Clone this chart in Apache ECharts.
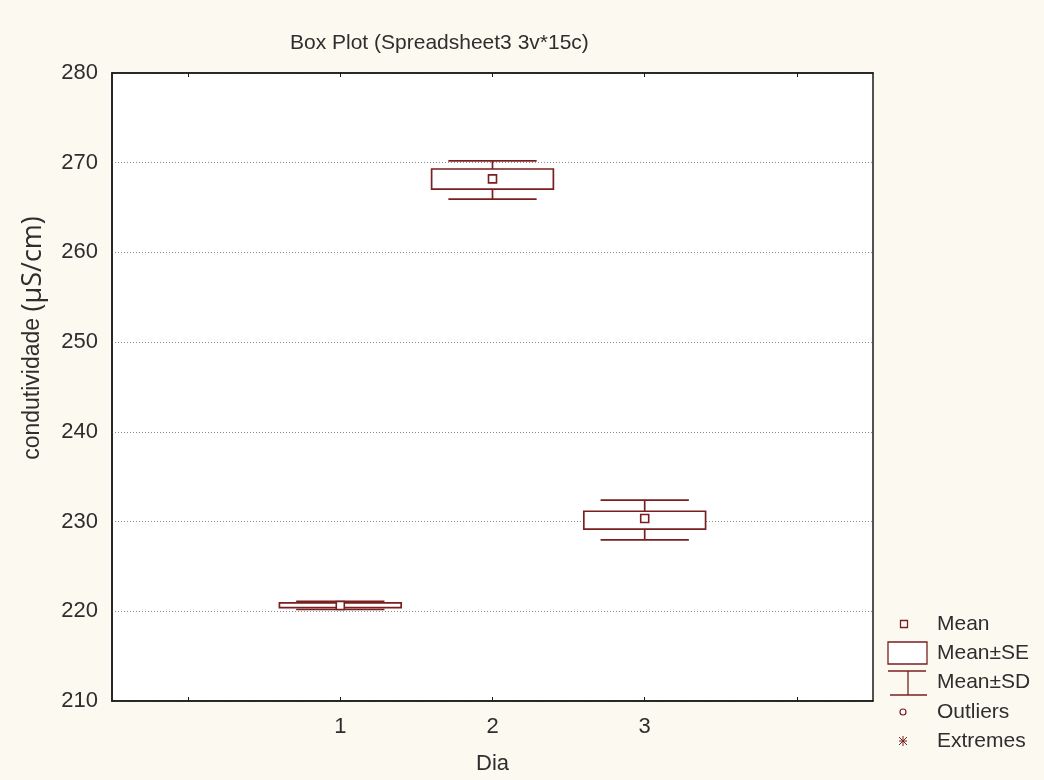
<!DOCTYPE html>
<html>
<head>
<meta charset="utf-8">
<script src="https://cdn.jsdelivr.net/npm/echarts@6/dist/echarts.min.js"></script>
<style>
  html, body { margin: 0; padding: 0; background: #fcf9f0; }
  #chart { width: 1044px; height: 780px; }
</style>
</head>
<body>
<div id="chart"></div>
<script>
// ---- data ----
const categories = ['', '1', '2', '3', ''];
const dayIndex = [1, 2, 3];
const means  = [220.65, 268.2, 230.35];
const seLow  = [220.40, 267.05, 229.15];
const seHigh = [220.93, 269.30, 231.15];
const sdLow  = [220.20, 265.95, 227.95];
const sdHigh = [221.10, 270.20, 232.40];
const yMin = 210, yMax = 280, yStep = 10;
const legendLabels = ['Mean', 'Mean±SE', 'Mean±SD', 'Outliers', 'Extremes'];

const RED = '#7a1f1f';
const TXT = '#2e2e2e';
const FONT = 'Liberation Sans';

const boxData = dayIndex.map((d, i) => [d, sdLow[i], seLow[i], means[i], seHigh[i], sdHigh[i]]);
const meanData = dayIndex.map((d, i) => [d, means[i]]);

function renderBox(params, api) {
  const x = api.value(0);
  const band = api.size([1, 0])[0];
  const bh = band * 0.40;
  const ch = band * 0.29;
  const pSdL = api.coord([x, api.value(1)]);
  const pSeL = api.coord([x, api.value(2)]);
  const pSeH = api.coord([x, api.value(4)]);
  const pSdH = api.coord([x, api.value(5)]);
  const cx = pSdL[0];
  const ls = { stroke: RED, lineWidth: 1.7, fill: null };
  return {
    type: 'group',
    children: [
      { type: 'line', shape: { x1: cx, y1: pSdH[1], x2: cx, y2: pSeH[1] }, style: ls },
      { type: 'line', shape: { x1: cx, y1: pSeL[1], x2: cx, y2: pSdL[1] }, style: ls },
      { type: 'line', shape: { x1: cx - ch, y1: pSdH[1], x2: cx + ch, y2: pSdH[1] }, style: ls },
      { type: 'line', shape: { x1: cx - ch, y1: pSdL[1], x2: cx + ch, y2: pSdL[1] }, style: ls },
      { type: 'rect', shape: { x: cx - bh, y: pSeH[1], width: 2 * bh, height: pSeL[1] - pSeH[1] },
        style: { stroke: RED, lineWidth: 1.7, fill: '#ffffff' } }
    ]
  };
}

const chart = echarts.init(document.getElementById('chart'), null, { renderer: 'canvas' });

// legend drawn as graphic (icons differ in shape and size)
const lx = 904, tx = 937;
const ly = [624, 653, 682, 712, 741];
const legendGraphics = [
  { type: 'rect', shape: { x: lx - 3.5, y: ly[0] - 3.5, width: 7, height: 7 }, style: { stroke: RED, lineWidth: 1.3, fill: '#fff' } },
  { type: 'rect', shape: { x: 888, y: 642, width: 39, height: 22 }, style: { stroke: RED, lineWidth: 1.3, fill: '#fff' } },
  { type: 'line', shape: { x1: 888, y1: 671, x2: 926, y2: 671 }, style: { stroke: RED, lineWidth: 1.3 } },
  { type: 'line', shape: { x1: 908, y1: 671, x2: 908, y2: 695 }, style: { stroke: RED, lineWidth: 1.3 } },
  { type: 'line', shape: { x1: 890, y1: 695, x2: 927, y2: 695 }, style: { stroke: RED, lineWidth: 1.3 } },
  { type: 'circle', shape: { cx: 903, cy: ly[3], r: 3 }, style: { stroke: RED, lineWidth: 1.2, fill: '#fff' } },
  { type: 'line', shape: { x1: 899, y1: ly[4], x2: 907, y2: ly[4] }, style: { stroke: RED, lineWidth: 1 } },
  { type: 'line', shape: { x1: 903, y1: ly[4] - 5, x2: 903, y2: ly[4] + 5 }, style: { stroke: RED, lineWidth: 1 } },
  { type: 'line', shape: { x1: 899, y1: ly[4] - 4, x2: 907, y2: ly[4] + 4 }, style: { stroke: RED, lineWidth: 1 } },
  { type: 'line', shape: { x1: 899, y1: ly[4] + 4, x2: 907, y2: ly[4] - 4 }, style: { stroke: RED, lineWidth: 1 } }
].concat(legendLabels.map((t, i) => ({
  type: 'text', x: tx, y: ly[i],
  style: { text: t, font: '21px "' + FONT + '"', fill: TXT, textAlign: 'left', textVerticalAlign: 'middle' }
})));

const option = {
  backgroundColor: '#fcf9f0',
  animation: false,
  title: {
    text: 'Box Plot (Spreadsheet3 3v*15c)',
    left: 285, top: 28,
    textStyle: { fontFamily: FONT, fontSize: 21, fontWeight: 'normal', color: TXT }
  },
  grid: {
    left: 112, right: 171, top: 73, bottom: 78,
    show: true, backgroundColor: '#ffffff', borderColor: '#1a1a1a', borderWidth: 1.5
  },
  xAxis: [
    {
      type: 'category', data: categories, position: 'bottom',
      boundaryGap: true,
      name: 'Dia', nameLocation: 'middle', nameGap: 52,
      nameTextStyle: { fontFamily: FONT, fontSize: 22, color: TXT },
      axisLine: { show: true, lineStyle: { color: '#1a1a1a', width: 1.5 } },
      axisTick: { show: true, inside: true, alignWithLabel: true, length: 4, lineStyle: { color: '#1a1a1a' } },
      axisLabel: { fontFamily: FONT, fontSize: 22, color: TXT, margin: 15 },
      splitLine: { show: false }
    },
    {
      type: 'category', data: categories, position: 'top',
      boundaryGap: true,
      axisLine: { show: true, lineStyle: { color: '#1a1a1a', width: 1.5 } },
      axisTick: { show: true, inside: true, alignWithLabel: true, length: 4, lineStyle: { color: '#1a1a1a' } },
      axisLabel: { show: false },
      splitLine: { show: false }
    }
  ],
  yAxis: {
    type: 'value', min: yMin, max: yMax, interval: yStep,
    axisLine: { show: true, lineStyle: { color: '#1a1a1a', width: 1.5 } },
    axisTick: { show: false },
    axisLabel: { fontFamily: FONT, fontSize: 22, color: TXT, margin: 14, showMinLabel: true, showMaxLabel: true },
    splitLine: { show: true, lineStyle: { color: '#8a8a8a', type: [1, 2], width: 1 } }
  },
  graphic: [
    {
      type: 'text', x: 33, y: 338, rotation: Math.PI / 2,
      style: {
        text: '{a|condutividade }{b|(µS/cm)}',
        textAlign: 'center', textVerticalAlign: 'middle',
        rich: {
          a: { fontFamily: FONT, fontSize: 23, fill: TXT, color: TXT },
          b: { fontFamily: 'Open Sans', fontSize: 27, fill: TXT, color: TXT }
        }
      }
    }
  ].concat(legendGraphics),
  series: [
    {
      name: 'Mean±SE / Mean±SD', type: 'custom', renderItem: renderBox,
      data: boxData, encode: { x: 0, y: [1, 2, 3, 4, 5] }, z: 3
    },
    {
      name: 'Mean', type: 'scatter', data: meanData, symbol: 'rect', symbolSize: 8,
      itemStyle: { color: '#ffffff', borderColor: RED, borderWidth: 1.6, opacity: 1 }, z: 4
    }
  ]
};
chart.setOption(option);
</script>
</body>
</html>
